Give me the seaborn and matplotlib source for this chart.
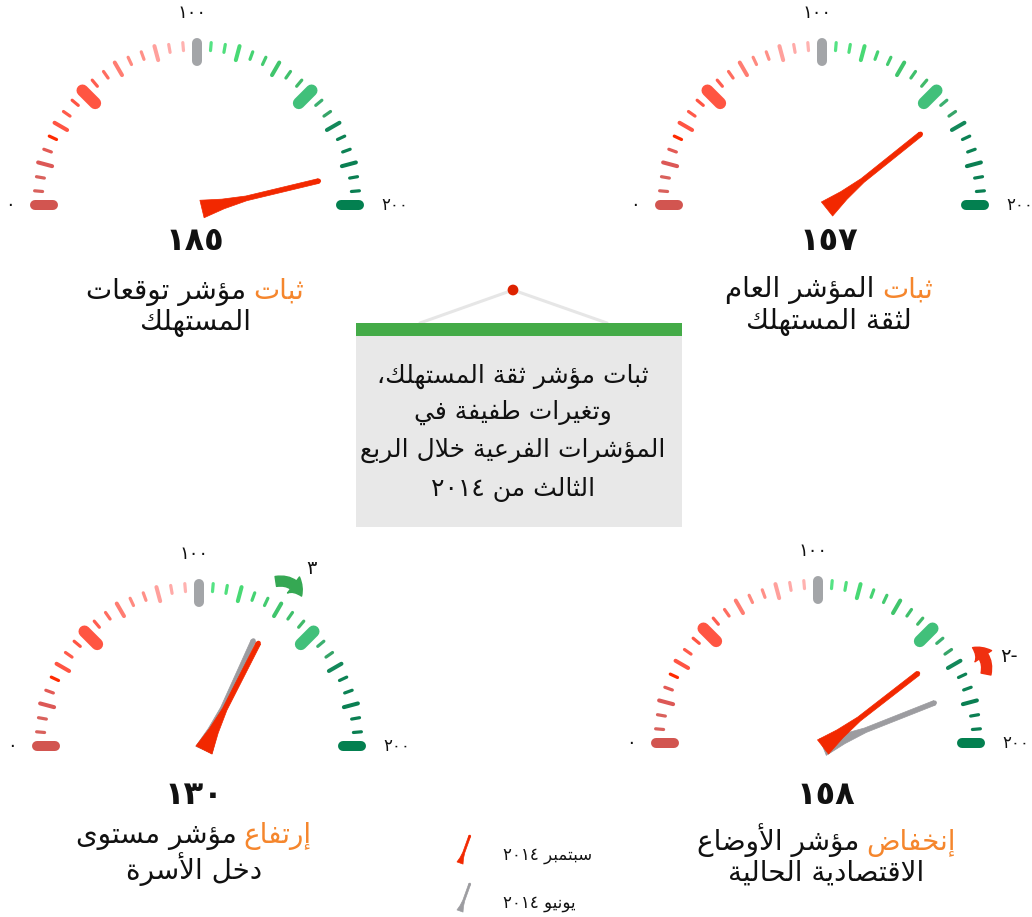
import re
import numpy as np
import matplotlib
matplotlib.use('Agg')
import matplotlib.pyplot as plt
import seaborn as sns
from matplotlib.patches import Polygon, Rectangle, FancyArrowPatch
from matplotlib.offsetbox import TextArea, HPacker, AnnotationBbox

########### data ###########
scale_max = 200
scale_labels = ['٠', '١٠٠', '٢٠٠']
sep_values = [185, 157, 130, 158]      # سبتمبر ٢٠١٤
jun_values = [185, 157, 127, 176]      # يونيو ٢٠١٤
change_labels = ['', '', '٣', '-٢']
title_keyword = ['ثبات', 'ثبات', 'إرتفاع', 'إنخفاض']
title_rest = ['مؤشر توقعات', 'المؤشر العام', 'مؤشر مستوى', 'مؤشر الأوضاع']
title_line2 = ['المستهلك', 'لثقة المستهلك', 'دخل الأسرة', 'الاقتصادية الحالية']
box_lines = ['ثبات مؤشر ثقة المستهلك،', 'وتغيرات طفيفة في',
             'المؤشرات الفرعية خلال الربع', 'الثالث من ٢٠١٤']
legend_labels = ['سبتمبر ٢٠١٤', 'يونيو ٢٠١٤']

########### style / layout ###########
tick_colors = ['#d25550', '#d9615c', '#d9615c', '#dc5856', '#e35a55', '#ff2a00', '#ff5443', '#ff5a4a', '#ff5443',
               '#ff5542', '#ff5d50', '#ff6d60', '#ff7d72', '#ff8a80', '#ff9088', '#ffa09c', '#ffaaa8', '#ffb2b0',
               '#a3a5a8',
               '#55e384', '#4fdf7c', '#48d974', '#45d372', '#44cb70', '#40c56c', '#3fc06c', '#41ba6a', '#41c07a',
               '#3bb070', '#36a468', '#13885a', '#0c8254', '#0c8254', '#0a7f52', '#0a7f52', '#0a7f52', '#038050']
gauge_centers = [(197, 205), (822, 205), (199, 746), (818, 743)]
label_x = [195, 829, 194, 826]
number_y = [242, 242, 795, 795]
line1_y = [291, 290, 835, 840]
line2_y = [323, 322, 869, 873]
RED = '#f22800'
GRAY = '#9c9ca0'
ORANGE = '#f5862d'

########### arabic shaping (no reshaper lib available) ###########
FORMS = {
    'ء': (0xFE80, 1), 'آ': (0xFE81, 2), 'أ': (0xFE83, 2), 'ؤ': (0xFE85, 2), 'إ': (0xFE87, 2),
    'ئ': (0xFE89, 4), 'ا': (0xFE8D, 2), 'ب': (0xFE8F, 4), 'ة': (0xFE93, 2), 'ت': (0xFE95, 4),
    'ث': (0xFE99, 4), 'ج': (0xFE9D, 4), 'ح': (0xFEA1, 4), 'خ': (0xFEA5, 4), 'د': (0xFEA9, 2),
    'ذ': (0xFEAB, 2), 'ر': (0xFEAD, 2), 'ز': (0xFEAF, 2), 'س': (0xFEB1, 4), 'ش': (0xFEB5, 4),
    'ص': (0xFEB9, 4), 'ض': (0xFEBD, 4), 'ط': (0xFEC1, 4), 'ظ': (0xFEC5, 4), 'ع': (0xFEC9, 4),
    'غ': (0xFECD, 4), 'ف': (0xFED1, 4), 'ق': (0xFED5, 4), 'ك': (0xFED9, 4), 'ل': (0xFEDD, 4),
    'م': (0xFEE1, 4), 'ن': (0xFEE5, 4), 'ه': (0xFEE9, 4), 'و': (0xFEED, 2), 'ى': (0xFEEF, 2),
    'ي': (0xFEF1, 4),
}
LAM_ALEF = {'آ': 0xFEF5, 'أ': 0xFEF7, 'إ': 0xFEF9, 'ا': 0xFEFB}


def shape(text):
    chars = []
    i = 0
    while i < len(text):
        if text[i] == 'ل' and i + 1 < len(text) and text[i + 1] in LAM_ALEF:
            chars.append(('LA', text[i + 1]))
            i += 2
        else:
            chars.append((text[i], None))
            i += 1
    out = []
    for k, (c, alef) in enumerate(chars):
        prev = chars[k - 1][0] if k > 0 else None
        nxt = chars[k + 1][0] if k + 1 < len(chars) else None
        joins_prev = prev in FORMS and FORMS[prev][1] == 4
        if c == 'LA':
            out.append(chr(LAM_ALEF[alef] + (1 if joins_prev else 0)))
            continue
        if c not in FORMS:
            out.append(c)
            continue
        base, n = FORMS[c]
        joins_next = n == 4 and (nxt == 'LA' or (nxt in FORMS and FORMS[nxt][1] > 1))
        if n == 1:
            form = 0
        elif joins_prev and joins_next:
            form = 3
        elif joins_prev:
            form = 1
        elif joins_next:
            form = 2
        else:
            form = 0
        out.append(chr(base + form))
    return ''.join(out)


def visual(line):
    rev = shape(line)[::-1]
    return re.sub(r'[0-9\u0660-\u0669]+', lambda m: m.group(0)[::-1], rev)


def ar_digits(v):
    return str(v).translate(str.maketrans('0123456789', '٠١٢٣٤٥٦٧٨٩'))


########### drawing helpers ###########
def polar(cx, cy, value, r):
    th = np.pi - value / scale_max * np.pi
    return cx + r * np.cos(th), cy - r * np.sin(th)


def needle(ax, px, py, value, color, length=120, base_hw=9, rod_hw=2.4, z=5):
    th = np.pi - value / scale_max * np.pi
    u = np.array([np.cos(th), -np.sin(th)])
    n = np.array([np.sin(th), np.cos(th)])
    p = np.array([px, py])
    prof = [(0, base_hw), (0.18, base_hw * 0.55), (0.38, rod_hw), (1.0, rod_hw)]
    left = [p + u * t * length + n * w for t, w in prof]
    right = [p + u * t * length - n * w for t, w in prof[::-1]]
    ax.add_patch(Polygon(left + right, closed=True, facecolor=color, edgecolor=color,
                         linewidth=0.5, joinstyle='round', zorder=z))
    tip = p + u * length
    ax.plot([tip[0] - u[0] * 2, tip[0]], [tip[1] - u[1] * 2, tip[1]], color=color,
            lw=rod_hw * 2 * 0.72, solid_capstyle='round', zorder=z)


sns.set_theme(style='white')
plt.rcParams['font.family'] = ['DejaVu Sans']

fig = plt.figure(figsize=(10.32, 9.17), dpi=100)
ax = fig.add_axes([0, 0, 1, 1])
ax.set_xlim(0, 1032)
ax.set_ylim(917, 0)
ax.axis('off')

n_ticks = len(tick_colors)
tick_vals = np.linspace(0, scale_max, n_ticks)

for g, (cx, cy) in enumerate(gauge_centers):
    # scale ticks
    for i, v in enumerate(tick_vals):
        if i % 9 == 0:
            r0, r1, lw = 144, 162, 7.2
            if i in (9, 27):
                lw = 8.6
        elif i % 3 == 0:
            r0, r1, lw = 150, 164.5, 2.9
        else:
            r0, r1, lw = 155, 163, 2.3
        x0, y0 = polar(cx, cy, v, r0)
        x1, y1 = polar(cx, cy, v, r1)
        ax.plot([x0, x1], [y0, y1], color=tick_colors[i], lw=lw, solid_capstyle='round', zorder=2)

    # scale labels
    ax.text(cx - 187, cy, scale_labels[0], fontsize=13, ha='center', va='center', color='#111111')
    ax.text(cx - 5, cy - 192, scale_labels[1], fontsize=13, ha='center', va='center', color='#111111')
    ax.text(cx + 184, cy, scale_labels[2], fontsize=12, ha='left', va='center', color='#111111')

    # needles
    px, py = cx + 5, cy + 4
    if jun_values[g] != sep_values[g]:
        needle(ax, px, py, jun_values[g], GRAY, z=4)
    needle(ax, px, py, sep_values[g], RED, z=5)

    # change arrow
    if change_labels[g]:
        d = sep_values[g] - jun_values[g]
        sgn = 1 if d > 0 else -1
        a0 = jun_values[g]
        a1 = jun_values[g] + sgn * 12
        col = '#35a853' if d > 0 else '#f03010'
        arr = FancyArrowPatch(polar(cx, cy, a0, 180), polar(cx, cy, a1, 180),
                              connectionstyle='arc3,rad=%.2f' % (-0.45 * sgn),
                              arrowstyle='simple,head_length=0.55,head_width=0.8,tail_width=0.4',
                              mutation_scale=18, color=col, zorder=6)
        ax.add_patch(arr)
        lx, ly = polar(cx, cy, (a0 + a1) / 2 + 3, 210)
        ax.text(lx, ly, visual(change_labels[g]), fontsize=14, ha='center', va='center', color='#111111')

    # value + title
    ax.text(label_x[g], number_y[g], ar_digits(sep_values[g]), fontsize=23, fontweight='bold',
            ha='center', va='center', color='#111111')
    t_rest = TextArea(visual(title_rest[g]), textprops=dict(fontsize=20, color='#111111'))
    t_key = TextArea(visual(title_keyword[g]), textprops=dict(fontsize=20, color=ORANGE))
    pack = HPacker(children=[t_rest, t_key], sep=5, pad=0, align='baseline')
    ab = AnnotationBbox(pack, (label_x[g], line1_y[g]), xycoords='data', frameon=False,
                        box_alignment=(0.5, 0.5), pad=0)
    ax.add_artist(ab)
    ax.text(label_x[g], line2_y[g], visual(title_line2[g]), fontsize=20, ha='center', va='center',
            color='#111111')

# center note box
ax.plot([420, 513, 607], [323, 290, 323], color='#e6e6e6', lw=2.2, zorder=1)
sns.scatterplot(x=[513], y=[290], s=60, color='#dd2200', edgecolor='none', ax=ax, zorder=3, legend=False)
ax.add_patch(Rectangle((356, 323), 326, 204, facecolor='#e8e8e8', edgecolor='none', zorder=2))
ax.add_patch(Rectangle((356, 323), 326, 13, facecolor='#44ab48', edgecolor='none', zorder=3))
box_y = [376, 412, 450, 489]
for txt, yy in zip(box_lines, box_y):
    ax.text(513, yy, visual(txt), fontsize=18, ha='center', va='center', color='#111111', zorder=4)

# legend
leg_colors = [RED, GRAY]
leg_y = [863, 911]
for txt, col, yy in zip(legend_labels, leg_colors, leg_y):
    needle(ax, 460, yy, 122, col, length=29, base_hw=3.2, rod_hw=1.0)
    ax.text(503, yy - 8, visual(txt), fontsize=12, ha='left', va='center', color='#111111')

fig.savefig('out.png', dpi=100)
